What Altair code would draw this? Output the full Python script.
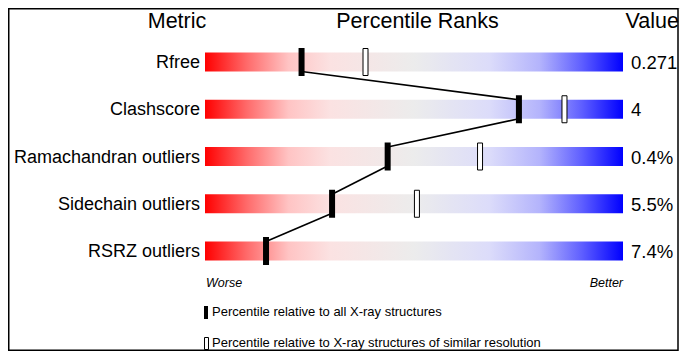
import altair as alt
import pandas as pd

metrics = ["Rfree", "Clashscore", "Ramachandran outliers", "Sidechain outliers", "RSRZ outliers"]
values = ["0.271", "4", "0.4%", "5.5%", "7.4%"]
pct_all = [23.1, 75.1, 43.7, 30.4, 14.6]
pct_res = [38.4, 86.0, 65.8, 50.7, None]
headers = ["Metric", "Percentile Ranks", "Value"]
legend_texts = ["Percentile relative to all X-ray structures",
                "Percentile relative to X-ray structures of similar resolution"]

FONT = "Liberation Sans, Arial, DejaVu Sans"
W, H = 672, 343

df = pd.DataFrame({"metric": metrics, "value": values, "row": list(range(len(metrics))),
                   "pct_all": pct_all, "pct_res": pct_res})
seg = df.copy()
seg["next_pct"] = seg["pct_all"].shift(-1)
seg["next_row"] = seg["row"] + 1
seg = seg.dropna(subset=["next_pct"])
res = df.dropna(subset=["pct_res"])

xs = alt.Scale(domain=[0, 100], range=[197, 615], padding=0, nice=False, zero=False)
ys = alt.Scale(domain=[0, 4], range=[54, 243], padding=0, nice=False, zero=False)

grad = alt.Gradient(
    gradient="linear", x1=0, x2=1, y1=0, y2=0,
    stops=[
        alt.GradientStop(color="#ff0000", offset=0),
        alt.GradientStop(color="#ff6a6a", offset=0.1),
        alt.GradientStop(color="#ffc4c4", offset=0.2),
        alt.GradientStop(color="#fbe2e2", offset=0.3),
        alt.GradientStop(color="#ececec", offset=0.5),
        alt.GradientStop(color="#dcdcfa", offset=0.68),
        alt.GradientStop(color="#b4b4fc", offset=0.8),
        alt.GradientStop(color="#6060ff", offset=0.9),
        alt.GradientStop(color="#0000ff", offset=1),
    ],
)

base = alt.Chart(df)
bars = base.mark_bar(color=grad, size=19, orient="horizontal").encode(
    x=alt.X("zero:Q", scale=xs, axis=None),
    x2="hundred:Q",
    y=alt.Y("row:Q", scale=ys, axis=None),
).transform_calculate(zero="0", hundred="100")

lines = alt.Chart(seg).mark_rule(color="black", strokeWidth=1.6, yOffset=9.5, y2Offset=-9.5).encode(
    x=alt.X("pct_all:Q", scale=xs, axis=None), x2="next_pct:Q",
    y=alt.Y("row:Q", scale=ys, axis=None), y2="next_row:Q",
)

mk_all = base.mark_tick(orient="vertical", thickness=6, size=28, color="black", opacity=1).encode(
    x=alt.X("pct_all:Q", scale=xs, axis=None),
    y=alt.Y("row:Q", scale=ys, axis=None),
)
mk_res = alt.Chart(res).mark_tick(orient="vertical", thickness=5, size=27, color="white",
                                  stroke="black", strokeWidth=1, opacity=1).encode(
    x=alt.X("pct_res:Q", scale=xs, axis=None),
    y=alt.Y("row:Q", scale=ys, axis=None),
)

row_labels = base.mark_text(align="right", baseline="middle", font=FONT, fontSize=18, dy=1, color="black").encode(
    x=alt.value(192), y=alt.Y("row:Q", scale=ys, axis=None), text="metric:N")
val_labels = base.mark_text(align="left", baseline="middle", font=FONT, fontSize=18.5, dy=1, color="black").encode(
    x=alt.value(623), y=alt.Y("row:Q", scale=ys, axis=None), text="value:N")

def txt(s, x, y, align, size, style="normal", baseline="alphabetic"):
    return alt.Chart(pd.DataFrame({"t": [s]})).mark_text(
        align=align, baseline=baseline, font=FONT, fontSize=size, fontStyle=style, color="black"
    ).encode(x=alt.value(x), y=alt.value(y), text="t:N")

h1 = txt(headers[0], 169, 19.5, "center", 21.5)
h2 = txt(headers[1], 409.5, 19.5, "center", 21.5)
h3 = txt(headers[2], 671, 19.5, "right", 21.5)
worse = txt("Worse", 198, 279, "left", 12.5, "italic")
better = txt("Better", 615, 279, "right", 12.5, "italic")
leg1 = txt(legend_texts[0], 204, 304, "left", 13, baseline="middle")
leg2 = txt(legend_texts[1], 204, 335, "left", 13, baseline="middle")

one = pd.DataFrame({"a": [0]})
lm1 = alt.Chart(one).mark_rect(color="black").encode(
    x=alt.value(196), x2=alt.value(200), y=alt.value(298), y2=alt.value(311))
lm2 = alt.Chart(one).mark_rect(fill="white", stroke="black", strokeWidth=1).encode(
    x=alt.value(196.5), x2=alt.value(200.5), y=alt.value(329.5), y2=alt.value(341.5))
frame = alt.Chart(one).mark_rect(fill="transparent", stroke="black", strokeWidth=1.5).encode(
    x=alt.value(0.75), x2=alt.value(670), y=alt.value(0.75), y2=alt.value(342.25))

chart = alt.layer(
    bars, lines, mk_all, mk_res, row_labels, val_labels, h1, h2, h3, worse, better,
    lm1, lm2, leg1, leg2, frame
).properties(
    width=W, height=H, padding=0, autosize=alt.AutoSizeParams(type="none")
).configure_view(stroke=None).configure(background="white")

chart.save("out.html", embed_options={"renderer": "svg", "actions": False})
